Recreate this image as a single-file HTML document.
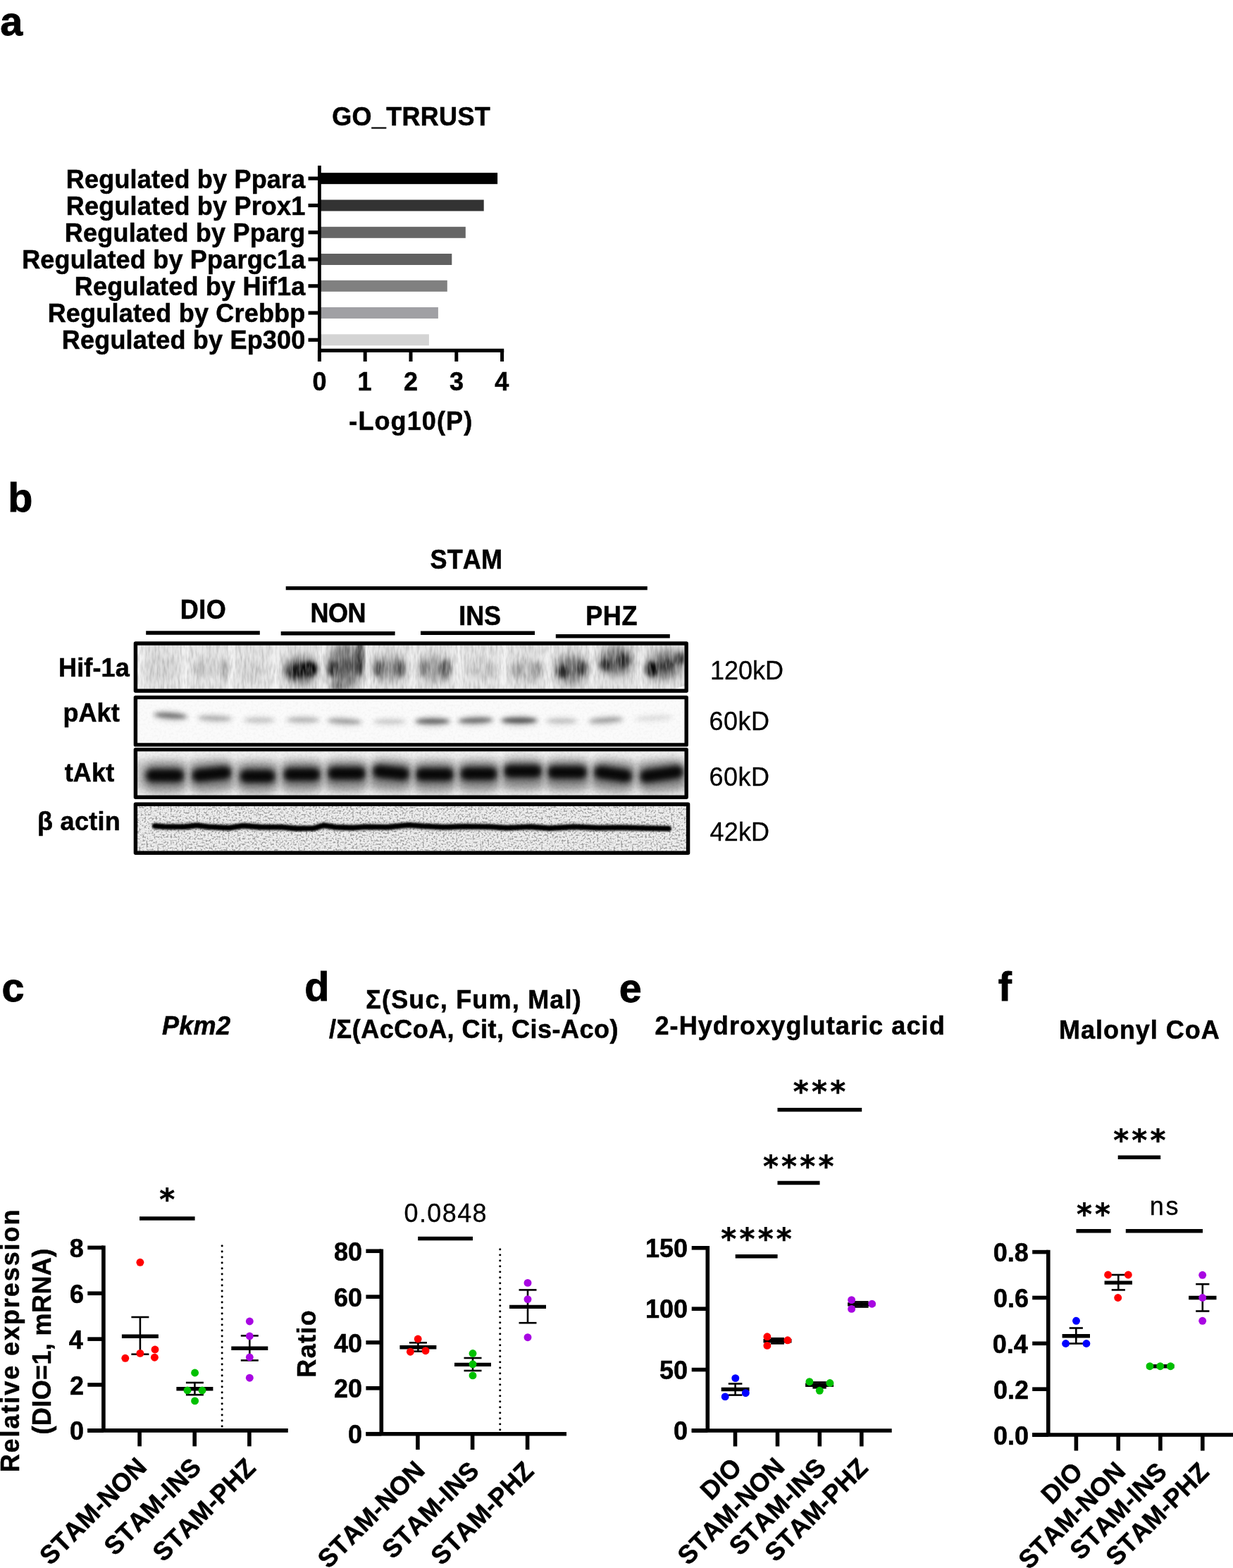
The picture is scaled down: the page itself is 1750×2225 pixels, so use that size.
<!DOCTYPE html>
<html lang="en">
<head>
<meta charset="utf-8">
<title>Figure</title>
<style>
html,body{margin:0;padding:0;background:#fff;}
body{width:1750px;height:2225px;overflow:hidden;}
svg{display:block;font-family:"Liberation Sans",Arial,Helvetica,sans-serif;font-kerning:none;}
text{fill:#000;white-space:pre;}
</style>
</head>
<body>
<svg width="1750" height="2225" viewBox="0 0 1750 2225">
<rect width="1750" height="2225" fill="#fff"/>
<text transform="translate(0.36 50.00) scale(1 1)" font-size="57.5" font-weight="bold" stroke="#000" stroke-width="0.88">a</text>
<text transform="translate(11.16 726.00) scale(1 1)" font-size="57.5" font-weight="bold" stroke="#000" stroke-width="0.88">b</text>
<text transform="translate(2.59 1421.30) scale(1 1)" font-size="57.5" font-weight="bold" stroke="#000" stroke-width="0.88">c</text>
<text transform="translate(432.30 1420.00) scale(1 1)" font-size="57.5" font-weight="bold" stroke="#000" stroke-width="0.88">d</text>
<text transform="translate(878.79 1421.50) scale(1 1)" font-size="57.5" font-weight="bold" stroke="#000" stroke-width="0.88">e</text>
<text transform="translate(1416.74 1420.00) scale(1 1)" font-size="57.5" font-weight="bold" stroke="#000" stroke-width="0.88">f</text>
<text transform="translate(471.16 178.00) scale(1 1.025)" font-size="36" font-weight="bold" letter-spacing="0.330" stroke="#000" stroke-width="0.55">GO_TRRUST</text>
<rect x="453.40" y="245.20" width="252.70" height="16.00" fill="#000000"/>
<line x1="437.50" y1="253.20" x2="453.40" y2="253.20" stroke="#000" stroke-width="5.2"/>
<text transform="translate(93.81 266.90) scale(1 1.0)" font-size="36" font-weight="bold" letter-spacing="0.200" stroke="#000" stroke-width="0.55">Regulated by Ppara</text>
<rect x="453.40" y="283.50" width="233.30" height="16.00" fill="#333333"/>
<line x1="437.50" y1="291.50" x2="453.40" y2="291.50" stroke="#000" stroke-width="5.2"/>
<text transform="translate(93.81 305.20) scale(1 1.0)" font-size="36" font-weight="bold" letter-spacing="0.200" stroke="#000" stroke-width="0.55">Regulated by Prox1</text>
<rect x="453.40" y="321.80" width="207.40" height="16.00" fill="#666666"/>
<line x1="437.50" y1="329.80" x2="453.40" y2="329.80" stroke="#000" stroke-width="5.2"/>
<text transform="translate(91.84 343.10) scale(1 1.0)" font-size="36" font-weight="bold" letter-spacing="0.200" stroke="#000" stroke-width="0.55">Regulated by Pparg</text>
<rect x="453.40" y="360.00" width="187.90" height="16.00" fill="#606060"/>
<line x1="437.50" y1="368.00" x2="453.40" y2="368.00" stroke="#000" stroke-width="5.2"/>
<text transform="translate(31.17 381.00) scale(1 1.0)" font-size="36" font-weight="bold" letter-spacing="0.200" stroke="#000" stroke-width="0.55">Regulated by Ppargc1a</text>
<rect x="453.40" y="397.80" width="181.40" height="16.00" fill="#808080"/>
<line x1="437.50" y1="405.80" x2="453.40" y2="405.80" stroke="#000" stroke-width="5.2"/>
<text transform="translate(105.83 418.70) scale(1 1.0)" font-size="36" font-weight="bold" letter-spacing="0.200" stroke="#000" stroke-width="0.55">Regulated by Hif1a</text>
<rect x="453.40" y="436.00" width="168.50" height="16.00" fill="#a0a0a4"/>
<line x1="437.50" y1="444.00" x2="453.40" y2="444.00" stroke="#000" stroke-width="5.2"/>
<text transform="translate(67.66 456.90) scale(1 1.0)" font-size="36" font-weight="bold" letter-spacing="0.200" stroke="#000" stroke-width="0.55">Regulated by Crebbp</text>
<rect x="453.40" y="474.30" width="155.50" height="16.00" fill="#d4d4d4"/>
<line x1="437.50" y1="482.30" x2="453.40" y2="482.30" stroke="#000" stroke-width="5.2"/>
<text transform="translate(87.79 495.20) scale(1 1.0)" font-size="36" font-weight="bold" letter-spacing="0.200" stroke="#000" stroke-width="0.55">Regulated by Ep300</text>
<line x1="453.40" y1="235.00" x2="453.40" y2="500.00" stroke="#000" stroke-width="4.8"/>
<line x1="451.00" y1="497.40" x2="715.20" y2="497.40" stroke="#000" stroke-width="5.2"/>
<line x1="453.40" y1="497.00" x2="453.40" y2="513.00" stroke="#000" stroke-width="5.0"/>
<text transform="translate(443.41 554.00) scale(1 1.025)" font-size="36" font-weight="bold" stroke="#000" stroke-width="0.55">0</text>
<line x1="518.20" y1="497.00" x2="518.20" y2="513.00" stroke="#000" stroke-width="5.0"/>
<text transform="translate(507.58 554.00) scale(1 1.025)" font-size="36" font-weight="bold" stroke="#000" stroke-width="0.55">1</text>
<line x1="583.00" y1="497.00" x2="583.00" y2="513.00" stroke="#000" stroke-width="5.0"/>
<text transform="translate(573.10 554.00) scale(1 1.025)" font-size="36" font-weight="bold" stroke="#000" stroke-width="0.55">2</text>
<line x1="647.80" y1="497.00" x2="647.80" y2="513.00" stroke="#000" stroke-width="5.0"/>
<text transform="translate(638.08 554.00) scale(1 1.025)" font-size="36" font-weight="bold" stroke="#000" stroke-width="0.55">3</text>
<line x1="712.60" y1="497.00" x2="712.60" y2="513.00" stroke="#000" stroke-width="5.0"/>
<text transform="translate(702.34 554.00) scale(1 1.025)" font-size="36" font-weight="bold" stroke="#000" stroke-width="0.55">4</text>
<text transform="translate(495.34 610.30) scale(1 1.0)" font-size="36" font-weight="bold" letter-spacing="1.100" stroke="#000" stroke-width="0.55">-Log10(P)</text>
<text transform="translate(610.60 806.70) scale(1 1.055)" font-size="36" font-weight="bold" letter-spacing="0.127" stroke="#000" stroke-width="0.55">STAM</text>
<line x1="405.70" y1="834.60" x2="918.80" y2="834.60" stroke="#000" stroke-width="5.4"/>
<text transform="translate(255.76 878.00) scale(1 1.055)" font-size="36" font-weight="bold" letter-spacing="0.450" stroke="#000" stroke-width="0.55">DIO</text>
<line x1="207.20" y1="898.00" x2="368.80" y2="898.00" stroke="#000" stroke-width="5.6"/>
<text transform="translate(440.46 882.50) scale(1 1.055)" font-size="36" font-weight="bold" letter-spacing="-0.420" stroke="#000" stroke-width="0.55">NON</text>
<line x1="398.70" y1="898.80" x2="560.60" y2="898.80" stroke="#000" stroke-width="5.6"/>
<text transform="translate(651.16 887.40) scale(1 1.055)" font-size="36" font-weight="bold" letter-spacing="-0.020" stroke="#000" stroke-width="0.55">INS</text>
<line x1="597.00" y1="898.20" x2="759.00" y2="898.20" stroke="#000" stroke-width="5.6"/>
<text transform="translate(831.16 887.40) scale(1 1.055)" font-size="36" font-weight="bold" letter-spacing="0.635" stroke="#000" stroke-width="0.55">PHZ</text>
<line x1="788.80" y1="902.80" x2="950.80" y2="902.80" stroke="#000" stroke-width="5.6"/>
<text transform="translate(83.06 960.30) scale(1 1.03)" font-size="36" font-weight="bold" letter-spacing="0.120" stroke="#000" stroke-width="0.55">Hif-1a</text>
<text transform="translate(89.46 1024.00) scale(1 1.03)" font-size="36" font-weight="bold" letter-spacing="0.077" stroke="#000" stroke-width="0.55">pAkt</text>
<text transform="translate(91.64 1108.90) scale(1 1.03)" font-size="36" font-weight="bold" letter-spacing="0.217" stroke="#000" stroke-width="0.55">tAkt</text>
<text transform="translate(53.06 1178.00) scale(1 1.03)" font-size="36" font-weight="bold" letter-spacing="0.289" stroke="#000" stroke-width="0.55">β actin</text>
<text transform="translate(1007.90 964.40) scale(1 1.02)" font-size="36" letter-spacing="-0.016" stroke="#000" stroke-width="0.30">120kD</text>
<text transform="translate(1006.50 1035.90) scale(1 1.02)" font-size="36" letter-spacing="0.519" stroke="#000" stroke-width="0.30">60kD</text>
<text transform="translate(1006.50 1114.60) scale(1 1.02)" font-size="36" letter-spacing="0.519" stroke="#000" stroke-width="0.30">60kD</text>
<text transform="translate(1007.58 1192.60) scale(1 1.02)" font-size="36" letter-spacing="0.159" stroke="#000" stroke-width="0.30">42kD</text>
<defs>
<filter id="n1" x="0" y="0" width="100%" height="100%"><feTurbulence type="fractalNoise" baseFrequency="0.32 0.07" numOctaves="2" seed="3"/><feColorMatrix type="matrix" values="0 0 0 0 0  0 0 0 0 0  0 0 0 0 0  2.4 0 0 0 -0.9"/></filter>
<filter id="n1w" x="0" y="0" width="100%" height="100%"><feTurbulence type="fractalNoise" baseFrequency="0.3 0.05" numOctaves="2" seed="17"/><feColorMatrix type="matrix" values="0 0 0 0 1  0 0 0 0 1  0 0 0 0 1  2.6 0 0 0 -1.05"/></filter>
<filter id="n2" x="0" y="0" width="100%" height="100%"><feTurbulence type="fractalNoise" baseFrequency="0.3" numOctaves="2" seed="5"/><feColorMatrix type="matrix" values="0 0 0 0 0  0 0 0 0 0  0 0 0 0 0  1.6 0 0 0 -0.62"/></filter>
<filter id="n4" x="0" y="0" width="100%" height="100%"><feTurbulence type="fractalNoise" baseFrequency="0.38" numOctaves="2" seed="11"/><feColorMatrix type="matrix" values="0 0 0 0 0  0 0 0 0 0  0 0 0 0 0  3.6 0 0 0 -1.68"/><feGaussianBlur stdDeviation="0.6"/></filter>
<filter id="b1" x="-10%" y="-100%" width="120%" height="300%"><feGaussianBlur stdDeviation="0.8"/></filter>
<filter id="b2" x="-30%" y="-100%" width="160%" height="300%"><feGaussianBlur stdDeviation="2.2"/></filter>
<filter id="b3" x="-30%" y="-100%" width="160%" height="300%"><feGaussianBlur stdDeviation="3.2"/></filter>
<filter id="b4" x="-30%" y="-100%" width="160%" height="300%"><feGaussianBlur stdDeviation="4.5"/></filter>
<filter id="b6" x="-30%" y="-100%" width="160%" height="300%"><feGaussianBlur stdDeviation="6.5"/></filter>

<clipPath id="cb0"><rect x="192.40" y="913.00" width="781.80" height="67.30"/></clipPath>
<clipPath id="cb1"><rect x="192.40" y="989.60" width="781.80" height="67.30"/></clipPath>
<clipPath id="cb2"><rect x="192.40" y="1063.60" width="781.80" height="67.70"/></clipPath>
<clipPath id="cb3"><rect x="192.40" y="1141.20" width="784.20" height="69.10"/></clipPath>
</defs>
<g clip-path="url(#cb0)">
<rect x="189.70" y="910.30" width="787.20" height="72.70" fill="#e4e4e4"/>
<rect x="194" y="910.3" width="10" height="72.7" fill="#fff" opacity="0.6" filter="url(#b3)"/>
<rect x="258" y="910.3" width="10" height="72.7" fill="#fff" opacity="0.6" filter="url(#b3)"/>
<rect x="323" y="910.3" width="10" height="72.7" fill="#fff" opacity="0.6" filter="url(#b3)"/>
<rect x="386.5" y="910.3" width="10" height="72.7" fill="#fff" opacity="0.6" filter="url(#b3)"/>
<rect x="452" y="910.3" width="10" height="72.7" fill="#fff" opacity="0.6" filter="url(#b3)"/>
<rect x="516" y="910.3" width="10" height="72.7" fill="#fff" opacity="0.6" filter="url(#b3)"/>
<rect x="580" y="910.3" width="10" height="72.7" fill="#fff" opacity="0.6" filter="url(#b3)"/>
<rect x="645.5" y="910.3" width="10" height="72.7" fill="#fff" opacity="0.6" filter="url(#b3)"/>
<rect x="710" y="910.3" width="10" height="72.7" fill="#fff" opacity="0.6" filter="url(#b3)"/>
<rect x="773.7" y="910.3" width="10" height="72.7" fill="#fff" opacity="0.6" filter="url(#b3)"/>
<rect x="836" y="910.3" width="10" height="72.7" fill="#fff" opacity="0.6" filter="url(#b3)"/>
<rect x="903" y="910.3" width="10" height="72.7" fill="#fff" opacity="0.6" filter="url(#b3)"/>
<ellipse cx="228" cy="948" rx="24" ry="17.5" fill="#000" opacity="0.06" filter="url(#b4)"/>
<ellipse cx="283" cy="949" rx="7" ry="12.5" fill="#000" opacity="0.13" filter="url(#b3)"/>
<ellipse cx="319.5" cy="949" rx="5" ry="13.8" fill="#000" opacity="0.25" filter="url(#b3)"/>
<ellipse cx="300" cy="949" rx="20" ry="12.5" fill="#000" opacity="0.06" filter="url(#b4)"/>
<ellipse cx="357" cy="951" rx="18" ry="12.5" fill="#000" opacity="0.07" filter="url(#b4)"/>
<ellipse cx="427" cy="951" rx="23" ry="19.5" fill="#000" opacity="0.56" filter="url(#b6)"/>
<ellipse cx="418" cy="953" rx="11" ry="10.0" fill="#000" opacity="0.73" filter="url(#b4)"/>
<ellipse cx="440" cy="949" rx="10" ry="10.0" fill="#000" opacity="1.0" filter="url(#b3)"/>
<ellipse cx="438" cy="949" rx="7" ry="6.2" fill="#000" opacity="1.0" filter="url(#b2)"/>
<ellipse cx="430" cy="951" rx="12" ry="8.8" fill="#000" opacity="0.63" filter="url(#b3)"/>
<ellipse cx="490" cy="945" rx="24" ry="33.8" fill="#000" opacity="0.45" filter="url(#b6)"/>
<ellipse cx="472" cy="949" rx="7" ry="11.2" fill="#000" opacity="0.73" filter="url(#b3)"/>
<ellipse cx="511" cy="934" rx="4.5" ry="26.2" fill="#000" opacity="0.84" filter="url(#b3)"/>
<ellipse cx="492" cy="946" rx="14" ry="11.2" fill="#000" opacity="0.37" filter="url(#b4)"/>
<ellipse cx="478" cy="974" rx="10" ry="6.2" fill="#000" opacity="0.32" filter="url(#b3)"/>
<ellipse cx="553" cy="948" rx="24" ry="18.2" fill="#000" opacity="0.33" filter="url(#b6)"/>
<ellipse cx="538" cy="949" rx="7" ry="11.2" fill="#000" opacity="0.5" filter="url(#b3)"/>
<ellipse cx="568" cy="949" rx="7" ry="11.2" fill="#000" opacity="0.48" filter="url(#b3)"/>
<ellipse cx="617" cy="949" rx="23" ry="18.2" fill="#000" opacity="0.3" filter="url(#b6)"/>
<ellipse cx="601" cy="949" rx="7" ry="10.0" fill="#000" opacity="0.32" filter="url(#b3)"/>
<ellipse cx="632.5" cy="949" rx="6.5" ry="12.5" fill="#000" opacity="0.53" filter="url(#b3)"/>
<ellipse cx="682" cy="950" rx="20" ry="15.0" fill="#000" opacity="0.08" filter="url(#b4)"/>
<ellipse cx="696" cy="951" rx="6" ry="10.0" fill="#000" opacity="0.11" filter="url(#b3)"/>
<ellipse cx="747" cy="951" rx="22" ry="16.9" fill="#000" opacity="0.16" filter="url(#b6)"/>
<ellipse cx="733" cy="952" rx="7" ry="10.0" fill="#000" opacity="0.15" filter="url(#b3)"/>
<ellipse cx="762" cy="950" rx="7" ry="11.2" fill="#000" opacity="0.21" filter="url(#b3)"/>
<ellipse cx="811" cy="950" rx="23" ry="20.8" fill="#000" opacity="0.47" filter="url(#b6)"/>
<ellipse cx="798.5" cy="953" rx="8" ry="10.0" fill="#000" opacity="0.65" filter="url(#b3)"/>
<ellipse cx="826" cy="948" rx="8" ry="10.0" fill="#000" opacity="0.55" filter="url(#b3)"/>
<ellipse cx="875" cy="938" rx="24" ry="20.8" fill="#000" opacity="0.5" filter="url(#b6)"/>
<ellipse cx="859.5" cy="943" rx="8" ry="8.8" fill="#000" opacity="0.63" filter="url(#b3)"/>
<ellipse cx="884" cy="937" rx="9" ry="10.0" fill="#000" opacity="0.65" filter="url(#b3)"/>
<ellipse cx="944" cy="944" rx="26" ry="20.8" fill="#000" opacity="0.5" filter="url(#b6)" transform="rotate(-18 944 944)"/>
<ellipse cx="925" cy="949.5" rx="8.5" ry="10.6" fill="#000" opacity="0.97" filter="url(#b3)"/>
<ellipse cx="946" cy="943" rx="12" ry="7.5" fill="#000" opacity="0.47" filter="url(#b3)" transform="rotate(-20 946 943)"/>
<ellipse cx="966" cy="934" rx="6" ry="8.8" fill="#000" opacity="0.73" filter="url(#b3)"/>
<rect x="189.70" y="910.30" width="787.20" height="72.70" fill="#000" filter="url(#n1)" opacity="0.13"/>
<rect x="189.70" y="910.30" width="787.20" height="72.70" fill="#fff" filter="url(#n1w)" opacity="0.3"/>
<path d="M947.5 980.3 L974.1999999999999 972.6 L974.1999999999999 980.3 Z" fill="#fff"/>
</g>
<rect x="192.40" y="913.00" width="781.80" height="67.30" fill="none" stroke="#000" stroke-width="5.4" stroke-linejoin="round"/>
<g clip-path="url(#cb1)">
<rect x="189.70" y="986.90" width="787.20" height="72.70" fill="#fbfbfb"/>
<rect x="189.70" y="986.90" width="787.20" height="72.70" fill="#000" filter="url(#n2)" opacity="0.04"/>
<ellipse cx="242" cy="1015.5" rx="24" ry="4.6" fill="#000" opacity="0.396" filter="url(#b3)" transform="rotate(4 242 1015.5)"/>
<ellipse cx="242" cy="1015.5" rx="20" ry="2.6" fill="#000" opacity="0.165" filter="url(#b2)" transform="rotate(4 242 1015.5)"/>
<ellipse cx="242" cy="1016.5" rx="26" ry="9" fill="#000" opacity="0.066" filter="url(#b4)" transform="rotate(4 242 1016.5)"/>
<ellipse cx="305" cy="1019.3" rx="25" ry="4.6" fill="#000" opacity="0.19440000000000002" filter="url(#b3)" transform="rotate(2 305 1019.3)"/>
<ellipse cx="305" cy="1019.3" rx="21" ry="2.6" fill="#000" opacity="0.081" filter="url(#b2)" transform="rotate(2 305 1019.3)"/>
<ellipse cx="305" cy="1020.3" rx="27" ry="9" fill="#000" opacity="0.0324" filter="url(#b4)" transform="rotate(2 305 1020.3)"/>
<ellipse cx="368" cy="1021.8" rx="23" ry="4.6" fill="#000" opacity="0.1296" filter="url(#b3)"/>
<ellipse cx="368" cy="1021.8" rx="19" ry="2.6" fill="#000" opacity="0.054" filter="url(#b2)"/>
<ellipse cx="368" cy="1022.8" rx="25" ry="9" fill="#000" opacity="0.021599999999999998" filter="url(#b4)"/>
<ellipse cx="430" cy="1021.5" rx="24" ry="4.6" fill="#000" opacity="0.18" filter="url(#b3)"/>
<ellipse cx="430" cy="1021.5" rx="20" ry="2.6" fill="#000" opacity="0.075" filter="url(#b2)"/>
<ellipse cx="430" cy="1022.5" rx="26" ry="9" fill="#000" opacity="0.03" filter="url(#b4)"/>
<ellipse cx="489" cy="1023.5" rx="25" ry="4.6" fill="#000" opacity="0.24480000000000002" filter="url(#b3)" transform="rotate(3 489 1023.5)"/>
<ellipse cx="489" cy="1023.5" rx="21" ry="2.6" fill="#000" opacity="0.10200000000000001" filter="url(#b2)" transform="rotate(3 489 1023.5)"/>
<ellipse cx="489" cy="1024.5" rx="27" ry="9" fill="#000" opacity="0.0408" filter="url(#b4)" transform="rotate(3 489 1024.5)"/>
<ellipse cx="553" cy="1024" rx="24" ry="4.6" fill="#000" opacity="0.1152" filter="url(#b3)"/>
<ellipse cx="553" cy="1024" rx="20" ry="2.6" fill="#000" opacity="0.048" filter="url(#b2)"/>
<ellipse cx="553" cy="1025" rx="26" ry="9" fill="#000" opacity="0.0192" filter="url(#b4)"/>
<ellipse cx="614" cy="1023.5" rx="25" ry="4.6" fill="#000" opacity="0.44639999999999996" filter="url(#b3)"/>
<ellipse cx="614" cy="1023.5" rx="21" ry="2.6" fill="#000" opacity="0.186" filter="url(#b2)"/>
<ellipse cx="614" cy="1024.5" rx="27" ry="9" fill="#000" opacity="0.0744" filter="url(#b4)"/>
<ellipse cx="675" cy="1022.3" rx="25" ry="4.6" fill="#000" opacity="0.41759999999999997" filter="url(#b3)" transform="rotate(-2 675 1022.3)"/>
<ellipse cx="675" cy="1022.3" rx="21" ry="2.6" fill="#000" opacity="0.174" filter="url(#b2)" transform="rotate(-2 675 1022.3)"/>
<ellipse cx="675" cy="1023.3" rx="27" ry="9" fill="#000" opacity="0.0696" filter="url(#b4)" transform="rotate(-2 675 1023.3)"/>
<ellipse cx="737" cy="1022.3" rx="26" ry="4.6" fill="#000" opacity="0.5184" filter="url(#b3)"/>
<ellipse cx="737" cy="1022.3" rx="22" ry="2.6" fill="#000" opacity="0.216" filter="url(#b2)"/>
<ellipse cx="737" cy="1023.3" rx="28" ry="9" fill="#000" opacity="0.08639999999999999" filter="url(#b4)"/>
<ellipse cx="797" cy="1023" rx="23" ry="4.6" fill="#000" opacity="0.144" filter="url(#b3)"/>
<ellipse cx="797" cy="1023" rx="19" ry="2.6" fill="#000" opacity="0.06" filter="url(#b2)"/>
<ellipse cx="797" cy="1024" rx="25" ry="9" fill="#000" opacity="0.024" filter="url(#b4)"/>
<ellipse cx="860" cy="1022" rx="25" ry="4.6" fill="#000" opacity="0.24480000000000002" filter="url(#b3)" transform="rotate(-4 860 1022)"/>
<ellipse cx="860" cy="1022" rx="21" ry="2.6" fill="#000" opacity="0.10200000000000001" filter="url(#b2)" transform="rotate(-4 860 1022)"/>
<ellipse cx="860" cy="1023" rx="27" ry="9" fill="#000" opacity="0.0408" filter="url(#b4)" transform="rotate(-4 860 1023)"/>
<ellipse cx="928" cy="1019" rx="28" ry="4.6" fill="#000" opacity="0.0648" filter="url(#b3)" transform="rotate(-3 928 1019)"/>
<ellipse cx="928" cy="1019" rx="24" ry="2.6" fill="#000" opacity="0.027" filter="url(#b2)" transform="rotate(-3 928 1019)"/>
<ellipse cx="928" cy="1020" rx="30" ry="9" fill="#000" opacity="0.010799999999999999" filter="url(#b4)" transform="rotate(-3 928 1020)"/>
</g>
<rect x="192.40" y="989.60" width="781.80" height="67.30" fill="none" stroke="#000" stroke-width="5.4" stroke-linejoin="round"/>
<g clip-path="url(#cb2)">
<rect x="189.70" y="1060.90" width="787.20" height="73.10" fill="#f2f2f2"/>
<rect x="189.7" y="1080" width="787.2" height="40" fill="#000" opacity="0.2" filter="url(#b6)"/>
<rect x="205.0" y="1081.5" width="58" height="44" rx="14" fill="#000" opacity="0.3" filter="url(#b6)"/>
<rect x="270.5" y="1079.5" width="60" height="44" rx="14" fill="#000" opacity="0.3" filter="url(#b6)" transform="rotate(-6 300.5 1101.5)"/>
<rect x="338.5" y="1082.5" width="54" height="44" rx="14" fill="#000" opacity="0.3" filter="url(#b6)"/>
<rect x="400.5" y="1080.0" width="56" height="44" rx="14" fill="#000" opacity="0.3" filter="url(#b6)"/>
<rect x="463.0" y="1078.5" width="58" height="44" rx="14" fill="#000" opacity="0.3" filter="url(#b6)"/>
<rect x="527.0" y="1077.5" width="56" height="44" rx="14" fill="#000" opacity="0.3" filter="url(#b6)" transform="rotate(6 555 1099.5)"/>
<rect x="588.0" y="1080.0" width="58" height="44" rx="14" fill="#000" opacity="0.3" filter="url(#b6)"/>
<rect x="651.5" y="1079.0" width="56" height="44" rx="14" fill="#000" opacity="0.3" filter="url(#b6)"/>
<rect x="713.0" y="1075.5" width="58" height="44" rx="14" fill="#000" opacity="0.3" filter="url(#b6)"/>
<rect x="775.0" y="1077.0" width="60" height="44" rx="14" fill="#000" opacity="0.3" filter="url(#b6)"/>
<rect x="841.0" y="1079.5" width="58" height="44" rx="14" fill="#000" opacity="0.3" filter="url(#b6)" transform="rotate(8 870 1101.5)"/>
<rect x="906.0" y="1079.5" width="66" height="44" rx="14" fill="#000" opacity="0.3" filter="url(#b6)" transform="rotate(-8 939 1101.5)"/>
<rect x="206.5" y="1091.0" width="55" height="19" rx="9" fill="#000" opacity="0.85" filter="url(#b4)"/>
<rect x="211.0" y="1095.5" width="46" height="10" rx="5" fill="#000" opacity="0.6" filter="url(#b3)"/>
<rect x="272.0" y="1089.0" width="57" height="19" rx="9" fill="#000" opacity="0.85" filter="url(#b4)" transform="rotate(-6 300.5 1098.5)"/>
<rect x="276.5" y="1093.5" width="48" height="10" rx="5" fill="#000" opacity="0.6" filter="url(#b3)" transform="rotate(-6 300.5 1098.5)"/>
<rect x="340.0" y="1092.0" width="51" height="19" rx="9" fill="#000" opacity="0.85" filter="url(#b4)"/>
<rect x="344.5" y="1096.5" width="42" height="10" rx="5" fill="#000" opacity="0.6" filter="url(#b3)"/>
<rect x="402.0" y="1089.5" width="53" height="19" rx="9" fill="#000" opacity="0.85" filter="url(#b4)"/>
<rect x="406.5" y="1094.0" width="44" height="10" rx="5" fill="#000" opacity="0.6" filter="url(#b3)"/>
<rect x="464.5" y="1088.0" width="55" height="19" rx="9" fill="#000" opacity="0.85" filter="url(#b4)"/>
<rect x="469.0" y="1092.5" width="46" height="10" rx="5" fill="#000" opacity="0.6" filter="url(#b3)"/>
<rect x="528.5" y="1087.0" width="53" height="19" rx="9" fill="#000" opacity="0.85" filter="url(#b4)" transform="rotate(6 555 1096.5)"/>
<rect x="533.0" y="1091.5" width="44" height="10" rx="5" fill="#000" opacity="0.6" filter="url(#b3)" transform="rotate(6 555 1096.5)"/>
<rect x="589.5" y="1089.5" width="55" height="19" rx="9" fill="#000" opacity="0.85" filter="url(#b4)"/>
<rect x="594.0" y="1094.0" width="46" height="10" rx="5" fill="#000" opacity="0.6" filter="url(#b3)"/>
<rect x="653.0" y="1088.5" width="53" height="19" rx="9" fill="#000" opacity="0.85" filter="url(#b4)"/>
<rect x="657.5" y="1093.0" width="44" height="10" rx="5" fill="#000" opacity="0.6" filter="url(#b3)"/>
<rect x="714.5" y="1085.0" width="55" height="19" rx="9" fill="#000" opacity="0.85" filter="url(#b4)"/>
<rect x="719.0" y="1089.5" width="46" height="10" rx="5" fill="#000" opacity="0.6" filter="url(#b3)"/>
<rect x="776.5" y="1086.5" width="57" height="19" rx="9" fill="#000" opacity="0.85" filter="url(#b4)"/>
<rect x="781.0" y="1091.0" width="48" height="10" rx="5" fill="#000" opacity="0.6" filter="url(#b3)"/>
<rect x="842.5" y="1089.0" width="55" height="19" rx="9" fill="#000" opacity="0.85" filter="url(#b4)" transform="rotate(8 870 1098.5)"/>
<rect x="847.0" y="1093.5" width="46" height="10" rx="5" fill="#000" opacity="0.6" filter="url(#b3)" transform="rotate(8 870 1098.5)"/>
<rect x="907.5" y="1089.0" width="63" height="19" rx="9" fill="#000" opacity="0.85" filter="url(#b4)" transform="rotate(-8 939 1098.5)"/>
<rect x="912.0" y="1093.5" width="54" height="10" rx="5" fill="#000" opacity="0.6" filter="url(#b3)" transform="rotate(-8 939 1098.5)"/>
<rect x="263.5" y="1060.9" width="7" height="73.1" fill="#fff" opacity="0.22" filter="url(#b3)"/>
<rect x="329.5" y="1060.9" width="7" height="73.1" fill="#fff" opacity="0.22" filter="url(#b3)"/>
<rect x="393.5" y="1060.9" width="7" height="73.1" fill="#fff" opacity="0.22" filter="url(#b3)"/>
<rect x="456.5" y="1060.9" width="7" height="73.1" fill="#fff" opacity="0.22" filter="url(#b3)"/>
<rect x="520.0" y="1060.9" width="7" height="73.1" fill="#fff" opacity="0.22" filter="url(#b3)"/>
<rect x="582.5" y="1060.9" width="7" height="73.1" fill="#fff" opacity="0.22" filter="url(#b3)"/>
<rect x="644.5" y="1060.9" width="7" height="73.1" fill="#fff" opacity="0.22" filter="url(#b3)"/>
<rect x="707.5" y="1060.9" width="7" height="73.1" fill="#fff" opacity="0.22" filter="url(#b3)"/>
<rect x="770.0" y="1060.9" width="7" height="73.1" fill="#fff" opacity="0.22" filter="url(#b3)"/>
<rect x="834.5" y="1060.9" width="7" height="73.1" fill="#fff" opacity="0.22" filter="url(#b3)"/>
<rect x="899.5" y="1060.9" width="7" height="73.1" fill="#fff" opacity="0.22" filter="url(#b3)"/>
<rect x="189.70" y="1060.90" width="787.20" height="73.10" fill="#000" filter="url(#n2)" opacity="0.08"/>
</g>
<rect x="192.40" y="1063.60" width="781.80" height="67.70" fill="none" stroke="#000" stroke-width="5.4" stroke-linejoin="round"/>
<g clip-path="url(#cb3)">
<rect x="189.70" y="1138.50" width="789.60" height="74.50" fill="#eeeeee"/>
<rect x="189.70" y="1138.50" width="789.60" height="74.50" fill="#000" filter="url(#n4)" opacity="0.34"/>
<path d="M220 1172 L232 1173 L262 1173.3 L279 1171.3 L296 1173.3 L325 1174.8 L345 1171.8 L370 1173.6 L400 1173.8 L420 1175.6 L445 1175.3 L460 1171.2 L476 1173.8 L500 1174.6 L520 1173.3 L550 1173.8 L580 1170.8 L600 1172.3 L630 1173.8 L660 1172.8 L695 1173.3 L720 1174.8 L752 1173.3 L780 1175.3 L815 1173.3 L850 1174.8 L880 1174.3 L920 1175.3 L949 1175.8" fill="none" stroke="#000" stroke-width="10" stroke-linecap="round" stroke-linejoin="round" opacity="0.22" filter="url(#b2)"/>
<path d="M220 1172 L232 1173 L262 1173.3 L279 1171.3 L296 1173.3 L325 1174.8 L345 1171.8 L370 1173.6 L400 1173.8 L420 1175.6 L445 1175.3 L460 1171.2 L476 1173.8 L500 1174.6 L520 1173.3 L550 1173.8 L580 1170.8 L600 1172.3 L630 1173.8 L660 1172.8 L695 1173.3 L720 1174.8 L752 1173.3 L780 1175.3 L815 1173.3 L850 1174.8 L880 1174.3 L920 1175.3 L949 1175.8" fill="none" stroke="#050505" stroke-width="7.6" stroke-linecap="round" stroke-linejoin="round" filter="url(#b1)"/>
</g>
<rect x="192.40" y="1141.20" width="784.20" height="69.10" fill="none" stroke="#000" stroke-width="5.4" stroke-linejoin="round"/>
<text transform="translate(229.96 1468.00) scale(1 1.0)" font-size="36" font-weight="bold" font-style="italic" letter-spacing="0.299" stroke="#000" stroke-width="0.55">Pkm2</text>
<line x1="146.90" y1="1767.61" x2="146.90" y2="2029.85" stroke="#000" stroke-width="5.6"/>
<line x1="124.30" y1="2029.85" x2="408.80" y2="2029.85" stroke="#000" stroke-width="5.6"/>
<line x1="124.30" y1="2029.85" x2="146.90" y2="2029.85" stroke="#000" stroke-width="5.6"/>
<text transform="translate(99.08 2043.45) scale(1 1.05)" font-size="36" font-weight="bold" stroke="#000" stroke-width="0.55">0</text>
<line x1="124.30" y1="1964.99" x2="146.90" y2="1964.99" stroke="#000" stroke-width="5.6"/>
<text transform="translate(99.08 1978.59) scale(1 1.05)" font-size="36" font-weight="bold" stroke="#000" stroke-width="0.55">2</text>
<line x1="124.30" y1="1900.13" x2="146.90" y2="1900.13" stroke="#000" stroke-width="5.6"/>
<text transform="translate(97.82 1913.73) scale(1 1.05)" font-size="36" font-weight="bold" stroke="#000" stroke-width="0.55">4</text>
<line x1="124.30" y1="1835.27" x2="146.90" y2="1835.27" stroke="#000" stroke-width="5.6"/>
<text transform="translate(99.08 1848.87) scale(1 1.05)" font-size="36" font-weight="bold" stroke="#000" stroke-width="0.55">6</text>
<line x1="124.30" y1="1770.41" x2="146.90" y2="1770.41" stroke="#000" stroke-width="5.6"/>
<text transform="translate(98.72 1784.01) scale(1 1.05)" font-size="36" font-weight="bold" stroke="#000" stroke-width="0.55">8</text>
<line x1="198.10" y1="2029.85" x2="198.10" y2="2052.35" stroke="#000" stroke-width="5.6"/>
<line x1="276.20" y1="2029.85" x2="276.20" y2="2052.35" stroke="#000" stroke-width="5.6"/>
<line x1="353.90" y1="2029.85" x2="353.90" y2="2052.35" stroke="#000" stroke-width="5.6"/>
<line x1="315.15" y1="1767.85" x2="315.15" y2="2023.9499999999998" stroke="#000" stroke-width="3.1" stroke-linecap="round" stroke-dasharray="0.01 7.99"/>
<text transform="translate(27.05 2087.00) rotate(-90) scale(1 1.0)" x="-2.34" font-size="36" font-weight="bold" letter-spacing="1.920" stroke="#000" stroke-width="0.55">Relative expression</text>
<text transform="translate(72.00 2033.90) rotate(-90) scale(1 1.0)" x="-1.62" font-size="36" font-weight="bold" letter-spacing="0.385" stroke="#000" stroke-width="0.55">(DIO=1, mRNA)</text>
<text transform="translate(208.50 2085.45) rotate(-45) scale(1 1.025)" x="-193.66" font-size="36" font-weight="bold" letter-spacing="0.300" stroke="#000" stroke-width="0.55">STAM-NON</text>
<text transform="translate(286.60 2085.45) rotate(-45) scale(1 1.025)" x="-174.76" font-size="36" font-weight="bold" letter-spacing="0.300" stroke="#000" stroke-width="0.55">STAM-INS</text>
<text transform="translate(364.30 2085.45) rotate(-45) scale(1 1.025)" x="-187.15" font-size="36" font-weight="bold" letter-spacing="0.300" stroke="#000" stroke-width="0.55">STAM-PHZ</text>
<line x1="186.40" y1="1869.00" x2="211.40" y2="1869.00" stroke="#000" stroke-width="2.6"/>
<line x1="186.40" y1="1921.70" x2="211.40" y2="1921.70" stroke="#000" stroke-width="2.6"/>
<line x1="198.90" y1="1869.00" x2="198.90" y2="1921.70" stroke="#000" stroke-width="2.6"/>
<line x1="172.90" y1="1896.20" x2="224.90" y2="1896.20" stroke="#000" stroke-width="5.4"/>
<circle cx="198.90" cy="1791.30" r="5.45" fill="#ff0000"/>
<circle cx="177.80" cy="1927.30" r="5.45" fill="#ff0000"/>
<circle cx="198.90" cy="1920.40" r="5.45" fill="#ff0000"/>
<circle cx="220.00" cy="1915.00" r="5.45" fill="#ff0000"/>
<circle cx="219.40" cy="1926.20" r="5.45" fill="#ff0000"/>
<line x1="263.90" y1="1962.00" x2="288.90" y2="1962.00" stroke="#000" stroke-width="2.6"/>
<line x1="263.90" y1="1979.20" x2="288.90" y2="1979.20" stroke="#000" stroke-width="2.6"/>
<line x1="276.40" y1="1962.00" x2="276.40" y2="1979.20" stroke="#000" stroke-width="2.6"/>
<line x1="250.40" y1="1970.70" x2="302.40" y2="1970.70" stroke="#000" stroke-width="5.4"/>
<circle cx="276.60" cy="1948.00" r="5.45" fill="#00c000"/>
<circle cx="266.00" cy="1973.00" r="5.45" fill="#00c000"/>
<circle cx="287.00" cy="1973.00" r="5.45" fill="#00c000"/>
<circle cx="276.60" cy="1987.90" r="5.45" fill="#00c000"/>
<line x1="341.80" y1="1895.40" x2="366.80" y2="1895.40" stroke="#000" stroke-width="2.6"/>
<line x1="341.80" y1="1930.40" x2="366.80" y2="1930.40" stroke="#000" stroke-width="2.6"/>
<line x1="354.30" y1="1895.40" x2="354.30" y2="1930.40" stroke="#000" stroke-width="2.6"/>
<line x1="328.30" y1="1913.30" x2="380.30" y2="1913.30" stroke="#000" stroke-width="5.4"/>
<circle cx="354.30" cy="1875.00" r="5.45" fill="#a806e2"/>
<circle cx="354.30" cy="1896.00" r="5.45" fill="#a806e2"/>
<circle cx="354.30" cy="1926.00" r="5.45" fill="#a806e2"/>
<circle cx="354.30" cy="1955.20" r="5.45" fill="#a806e2"/>
<line x1="198.00" y1="1729.00" x2="276.60" y2="1729.00" stroke="#000" stroke-width="5.6"/>
<text transform="translate(226.28 1717.03) scale(1 1)" font-size="42" font-weight="bold" font-family="DejaVu Sans, sans-serif" letter-spacing="4.200" stroke="#000" stroke-width="0.4">*</text>
<text transform="translate(519.16 1430.50) scale(1 1.0)" font-size="36" font-weight="bold" letter-spacing="1.197" stroke="#000" stroke-width="0.55">Σ(Suc, Fum, Mal)</text>
<text transform="translate(467.12 1473.00) scale(1 1.0)" font-size="36" font-weight="bold" letter-spacing="0.487" stroke="#000" stroke-width="0.55">/Σ(AcCoA, Cit, Cis-Aco)</text>
<line x1="541.30" y1="1772.46" x2="541.30" y2="2034.70" stroke="#000" stroke-width="5.6"/>
<line x1="519.40" y1="2034.70" x2="804.00" y2="2034.70" stroke="#000" stroke-width="5.6"/>
<line x1="519.40" y1="2034.70" x2="541.30" y2="2034.70" stroke="#000" stroke-width="5.6"/>
<text transform="translate(493.98 2048.30) scale(1 1.05)" font-size="36" font-weight="bold" stroke="#000" stroke-width="0.55">0</text>
<line x1="519.40" y1="1969.84" x2="541.30" y2="1969.84" stroke="#000" stroke-width="5.6"/>
<text transform="translate(473.96 1983.44) scale(1 1.05)" font-size="36" font-weight="bold" stroke="#000" stroke-width="0.55">20</text>
<line x1="519.40" y1="1904.98" x2="541.30" y2="1904.98" stroke="#000" stroke-width="5.6"/>
<text transform="translate(473.96 1918.58) scale(1 1.05)" font-size="36" font-weight="bold" stroke="#000" stroke-width="0.55">40</text>
<line x1="519.40" y1="1840.12" x2="541.30" y2="1840.12" stroke="#000" stroke-width="5.6"/>
<text transform="translate(473.96 1853.72) scale(1 1.05)" font-size="36" font-weight="bold" stroke="#000" stroke-width="0.55">60</text>
<line x1="519.40" y1="1775.26" x2="541.30" y2="1775.26" stroke="#000" stroke-width="5.6"/>
<text transform="translate(473.96 1788.86) scale(1 1.05)" font-size="36" font-weight="bold" stroke="#000" stroke-width="0.55">80</text>
<line x1="592.90" y1="2034.70" x2="592.90" y2="2057.10" stroke="#000" stroke-width="5.6"/>
<line x1="670.60" y1="2034.70" x2="670.60" y2="2057.10" stroke="#000" stroke-width="5.6"/>
<line x1="748.60" y1="2034.70" x2="748.60" y2="2057.10" stroke="#000" stroke-width="5.6"/>
<line x1="709.75" y1="1772.7" x2="709.75" y2="2028.8" stroke="#000" stroke-width="3.1" stroke-linecap="round" stroke-dasharray="0.01 7.99"/>
<text transform="translate(448.30 1952.40) rotate(-90) scale(1 1.0)" x="-2.34" font-size="36" font-weight="bold" letter-spacing="1.358" stroke="#000" stroke-width="0.55">Ratio</text>
<text transform="translate(603.30 2090.30) rotate(-45) scale(1 1.025)" x="-193.66" font-size="36" font-weight="bold" letter-spacing="0.300" stroke="#000" stroke-width="0.55">STAM-NON</text>
<text transform="translate(681.00 2090.30) rotate(-45) scale(1 1.025)" x="-174.76" font-size="36" font-weight="bold" letter-spacing="0.300" stroke="#000" stroke-width="0.55">STAM-INS</text>
<text transform="translate(759.00 2090.30) rotate(-45) scale(1 1.025)" x="-187.15" font-size="36" font-weight="bold" letter-spacing="0.300" stroke="#000" stroke-width="0.55">STAM-PHZ</text>
<line x1="580.90" y1="1905.30" x2="605.90" y2="1905.30" stroke="#000" stroke-width="2.6"/>
<line x1="580.90" y1="1917.60" x2="605.90" y2="1917.60" stroke="#000" stroke-width="2.6"/>
<line x1="593.40" y1="1905.30" x2="593.40" y2="1917.60" stroke="#000" stroke-width="2.6"/>
<line x1="567.40" y1="1911.80" x2="619.40" y2="1911.80" stroke="#000" stroke-width="5.4"/>
<circle cx="593.20" cy="1900.00" r="5.45" fill="#ff0000"/>
<circle cx="582.40" cy="1918.20" r="5.45" fill="#ff0000"/>
<circle cx="604.00" cy="1916.70" r="5.45" fill="#ff0000"/>
<line x1="658.50" y1="1927.00" x2="683.50" y2="1927.00" stroke="#000" stroke-width="2.6"/>
<line x1="658.50" y1="1945.00" x2="683.50" y2="1945.00" stroke="#000" stroke-width="2.6"/>
<line x1="671.00" y1="1927.00" x2="671.00" y2="1945.00" stroke="#000" stroke-width="2.6"/>
<line x1="645.00" y1="1936.40" x2="697.00" y2="1936.40" stroke="#000" stroke-width="5.4"/>
<circle cx="671.00" cy="1920.50" r="5.45" fill="#00c000"/>
<circle cx="671.00" cy="1935.80" r="5.45" fill="#00c000"/>
<circle cx="671.00" cy="1951.90" r="5.45" fill="#00c000"/>
<line x1="736.50" y1="1830.40" x2="761.50" y2="1830.40" stroke="#000" stroke-width="2.6"/>
<line x1="736.50" y1="1877.20" x2="761.50" y2="1877.20" stroke="#000" stroke-width="2.6"/>
<line x1="749.00" y1="1830.40" x2="749.00" y2="1877.20" stroke="#000" stroke-width="2.6"/>
<line x1="723.00" y1="1854.40" x2="775.00" y2="1854.40" stroke="#000" stroke-width="5.4"/>
<circle cx="749.00" cy="1820.40" r="5.45" fill="#a806e2"/>
<circle cx="749.00" cy="1843.60" r="5.45" fill="#a806e2"/>
<circle cx="749.00" cy="1897.70" r="5.45" fill="#a806e2"/>
<line x1="593.20" y1="1757.50" x2="671.00" y2="1757.50" stroke="#000" stroke-width="5.6"/>
<text transform="translate(573.54 1734.00) scale(1 1.025)" font-size="36" letter-spacing="1.406" stroke="#000" stroke-width="0.30">0.0848</text>
<text transform="translate(929.42 1467.70) scale(1 1.0)" font-size="36" font-weight="bold" letter-spacing="1.101" stroke="#000" stroke-width="0.55">2-Hydroxyglutaric acid</text>
<line x1="1004.30" y1="1768.01" x2="1004.30" y2="2029.95" stroke="#000" stroke-width="5.6"/>
<line x1="981.70" y1="2029.95" x2="1265.70" y2="2029.95" stroke="#000" stroke-width="5.6"/>
<line x1="981.70" y1="2029.95" x2="1004.30" y2="2029.95" stroke="#000" stroke-width="5.6"/>
<text transform="translate(955.98 2043.15) scale(1 1.05)" font-size="36" font-weight="bold" stroke="#000" stroke-width="0.55">0</text>
<line x1="981.70" y1="1943.57" x2="1004.30" y2="1943.57" stroke="#000" stroke-width="5.6"/>
<text transform="translate(935.96 1956.77) scale(1 1.05)" font-size="36" font-weight="bold" stroke="#000" stroke-width="0.55">50</text>
<line x1="981.70" y1="1857.19" x2="1004.30" y2="1857.19" stroke="#000" stroke-width="5.6"/>
<text transform="translate(915.94 1870.39) scale(1 1.05)" font-size="36" font-weight="bold" stroke="#000" stroke-width="0.55">100</text>
<line x1="981.70" y1="1770.81" x2="1004.30" y2="1770.81" stroke="#000" stroke-width="5.6"/>
<text transform="translate(915.94 1784.01) scale(1 1.05)" font-size="36" font-weight="bold" stroke="#000" stroke-width="0.55">150</text>
<line x1="1043.50" y1="2029.95" x2="1043.50" y2="2052.45" stroke="#000" stroke-width="5.6"/>
<line x1="1103.50" y1="2029.95" x2="1103.50" y2="2052.45" stroke="#000" stroke-width="5.6"/>
<line x1="1163.30" y1="2029.95" x2="1163.30" y2="2052.45" stroke="#000" stroke-width="5.6"/>
<line x1="1222.80" y1="2029.95" x2="1222.80" y2="2052.45" stroke="#000" stroke-width="5.6"/>
<text transform="translate(1053.90 2085.55) rotate(-45) scale(1 1.025)" x="-63.24" font-size="36" font-weight="bold" letter-spacing="0.300" stroke="#000" stroke-width="0.55">DIO</text>
<text transform="translate(1113.90 2085.55) rotate(-45) scale(1 1.025)" x="-193.66" font-size="36" font-weight="bold" letter-spacing="0.300" stroke="#000" stroke-width="0.55">STAM-NON</text>
<text transform="translate(1173.70 2085.55) rotate(-45) scale(1 1.025)" x="-174.76" font-size="36" font-weight="bold" letter-spacing="0.300" stroke="#000" stroke-width="0.55">STAM-INS</text>
<text transform="translate(1233.20 2085.55) rotate(-45) scale(1 1.025)" x="-187.15" font-size="36" font-weight="bold" letter-spacing="0.300" stroke="#000" stroke-width="0.55">STAM-PHZ</text>
<line x1="1033.80" y1="1963.50" x2="1053.40" y2="1963.50" stroke="#000" stroke-width="2.6"/>
<line x1="1033.80" y1="1979.60" x2="1053.40" y2="1979.60" stroke="#000" stroke-width="2.6"/>
<line x1="1043.60" y1="1963.50" x2="1043.60" y2="1979.60" stroke="#000" stroke-width="2.6"/>
<line x1="1023.70" y1="1971.50" x2="1063.50" y2="1971.50" stroke="#000" stroke-width="5.4"/>
<circle cx="1043.80" cy="1955.60" r="5.45" fill="#0000ff"/>
<circle cx="1029.20" cy="1981.90" r="5.45" fill="#0000ff"/>
<circle cx="1058.30" cy="1976.70" r="5.45" fill="#0000ff"/>
<line x1="1094.10" y1="1899.20" x2="1112.90" y2="1899.20" stroke="#000" stroke-width="2.6"/>
<line x1="1094.10" y1="1906.40" x2="1112.90" y2="1906.40" stroke="#000" stroke-width="2.6"/>
<line x1="1103.50" y1="1899.20" x2="1103.50" y2="1906.40" stroke="#000" stroke-width="2.6"/>
<line x1="1083.50" y1="1902.80" x2="1123.50" y2="1902.80" stroke="#000" stroke-width="5.4"/>
<circle cx="1088.90" cy="1896.80" r="5.45" fill="#ff0000"/>
<circle cx="1088.90" cy="1909.40" r="5.45" fill="#ff0000"/>
<circle cx="1117.90" cy="1901.80" r="5.45" fill="#ff0000"/>
<line x1="1153.40" y1="1961.50" x2="1172.80" y2="1961.50" stroke="#000" stroke-width="2.6"/>
<line x1="1153.40" y1="1969.30" x2="1172.80" y2="1969.30" stroke="#000" stroke-width="2.6"/>
<line x1="1163.10" y1="1961.50" x2="1163.10" y2="1969.30" stroke="#000" stroke-width="2.6"/>
<line x1="1143.10" y1="1965.30" x2="1183.10" y2="1965.30" stroke="#000" stroke-width="5.4"/>
<circle cx="1148.90" cy="1960.70" r="5.45" fill="#00c000"/>
<circle cx="1177.90" cy="1962.50" r="5.45" fill="#00c000"/>
<circle cx="1163.30" cy="1973.30" r="5.45" fill="#00c000"/>
<line x1="1212.80" y1="1847.40" x2="1232.60" y2="1847.40" stroke="#000" stroke-width="2.6"/>
<line x1="1212.80" y1="1854.50" x2="1232.60" y2="1854.50" stroke="#000" stroke-width="2.6"/>
<line x1="1222.70" y1="1847.40" x2="1222.70" y2="1854.50" stroke="#000" stroke-width="2.6"/>
<line x1="1203.10" y1="1850.90" x2="1242.30" y2="1850.90" stroke="#000" stroke-width="5.4"/>
<circle cx="1208.60" cy="1844.60" r="5.45" fill="#a806e2"/>
<circle cx="1208.60" cy="1857.40" r="5.45" fill="#a806e2"/>
<circle cx="1237.60" cy="1850.20" r="5.45" fill="#a806e2"/>
<line x1="1043.70" y1="1782.70" x2="1103.60" y2="1782.70" stroke="#000" stroke-width="5.6"/>
<text transform="translate(1023.33 1772.53) scale(1 1)" font-size="42" font-weight="bold" font-family="DejaVu Sans, sans-serif" letter-spacing="4.200" stroke="#000" stroke-width="0.4">****</text>
<line x1="1103.50" y1="1678.50" x2="1163.50" y2="1678.50" stroke="#000" stroke-width="5.6"/>
<text transform="translate(1082.93 1669.53) scale(1 1)" font-size="42" font-weight="bold" font-family="DejaVu Sans, sans-serif" letter-spacing="4.200" stroke="#000" stroke-width="0.4">****</text>
<line x1="1103.50" y1="1574.70" x2="1223.20" y2="1574.70" stroke="#000" stroke-width="5.6"/>
<text transform="translate(1125.81 1564.12) scale(1 1)" font-size="42" font-weight="bold" font-family="DejaVu Sans, sans-serif" letter-spacing="4.200" stroke="#000" stroke-width="0.4">***</text>
<text transform="translate(1502.96 1474.40) scale(1 1.0)" font-size="36" font-weight="bold" letter-spacing="0.983" stroke="#000" stroke-width="0.55">Malonyl CoA</text>
<line x1="1487.80" y1="1773.81" x2="1487.80" y2="2036.05" stroke="#000" stroke-width="5.6"/>
<line x1="1465.20" y1="2036.05" x2="1750.00" y2="2036.05" stroke="#000" stroke-width="5.6"/>
<line x1="1465.20" y1="2036.05" x2="1487.80" y2="2036.05" stroke="#000" stroke-width="5.6"/>
<text transform="translate(1410.06 2049.65) scale(1 1.05)" font-size="36" font-weight="bold" stroke="#000" stroke-width="0.55">0.0</text>
<line x1="1465.20" y1="1971.19" x2="1487.80" y2="1971.19" stroke="#000" stroke-width="5.6"/>
<text transform="translate(1410.06 1984.79) scale(1 1.05)" font-size="36" font-weight="bold" stroke="#000" stroke-width="0.55">0.2</text>
<line x1="1465.20" y1="1906.33" x2="1487.80" y2="1906.33" stroke="#000" stroke-width="5.6"/>
<text transform="translate(1408.80 1919.93) scale(1 1.05)" font-size="36" font-weight="bold" stroke="#000" stroke-width="0.55">0.4</text>
<line x1="1465.20" y1="1841.47" x2="1487.80" y2="1841.47" stroke="#000" stroke-width="5.6"/>
<text transform="translate(1410.06 1855.07) scale(1 1.05)" font-size="36" font-weight="bold" stroke="#000" stroke-width="0.55">0.6</text>
<line x1="1465.20" y1="1776.61" x2="1487.80" y2="1776.61" stroke="#000" stroke-width="5.6"/>
<text transform="translate(1409.70 1790.21) scale(1 1.05)" font-size="36" font-weight="bold" stroke="#000" stroke-width="0.55">0.8</text>
<line x1="1527.40" y1="2036.05" x2="1527.40" y2="2058.55" stroke="#000" stroke-width="5.6"/>
<line x1="1587.20" y1="2036.05" x2="1587.20" y2="2058.55" stroke="#000" stroke-width="5.6"/>
<line x1="1646.90" y1="2036.05" x2="1646.90" y2="2058.55" stroke="#000" stroke-width="5.6"/>
<line x1="1706.80" y1="2036.05" x2="1706.80" y2="2058.55" stroke="#000" stroke-width="5.6"/>
<text transform="translate(1537.80 2091.65) rotate(-45) scale(1 1.025)" x="-63.24" font-size="36" font-weight="bold" letter-spacing="0.300" stroke="#000" stroke-width="0.55">DIO</text>
<text transform="translate(1597.60 2091.65) rotate(-45) scale(1 1.025)" x="-193.66" font-size="36" font-weight="bold" letter-spacing="0.300" stroke="#000" stroke-width="0.55">STAM-NON</text>
<text transform="translate(1657.30 2091.65) rotate(-45) scale(1 1.025)" x="-174.76" font-size="36" font-weight="bold" letter-spacing="0.300" stroke="#000" stroke-width="0.55">STAM-INS</text>
<text transform="translate(1717.20 2091.65) rotate(-45) scale(1 1.025)" x="-187.15" font-size="36" font-weight="bold" letter-spacing="0.300" stroke="#000" stroke-width="0.55">STAM-PHZ</text>
<line x1="1517.70" y1="1884.50" x2="1536.90" y2="1884.50" stroke="#000" stroke-width="2.6"/>
<line x1="1517.70" y1="1906.50" x2="1536.90" y2="1906.50" stroke="#000" stroke-width="2.6"/>
<line x1="1527.30" y1="1884.50" x2="1527.30" y2="1906.50" stroke="#000" stroke-width="2.6"/>
<line x1="1507.60" y1="1895.70" x2="1547.00" y2="1895.70" stroke="#000" stroke-width="5.4"/>
<circle cx="1527.50" cy="1874.30" r="5.45" fill="#0000ff"/>
<circle cx="1512.60" cy="1906.50" r="5.45" fill="#0000ff"/>
<circle cx="1541.90" cy="1906.50" r="5.45" fill="#0000ff"/>
<line x1="1577.70" y1="1809.00" x2="1596.90" y2="1809.00" stroke="#000" stroke-width="2.6"/>
<line x1="1577.70" y1="1830.40" x2="1596.90" y2="1830.40" stroke="#000" stroke-width="2.6"/>
<line x1="1587.30" y1="1809.00" x2="1587.30" y2="1830.40" stroke="#000" stroke-width="2.6"/>
<line x1="1567.60" y1="1820.10" x2="1607.00" y2="1820.10" stroke="#000" stroke-width="5.4"/>
<circle cx="1572.60" cy="1809.00" r="5.45" fill="#ff0000"/>
<circle cx="1601.30" cy="1809.00" r="5.45" fill="#ff0000"/>
<circle cx="1586.70" cy="1841.50" r="5.45" fill="#ff0000"/>
<line x1="1627.00" y1="1938.70" x2="1666.50" y2="1938.70" stroke="#000" stroke-width="5.4"/>
<circle cx="1632.00" cy="1938.70" r="5.45" fill="#00c000"/>
<circle cx="1646.70" cy="1938.70" r="5.45" fill="#00c000"/>
<circle cx="1661.30" cy="1938.70" r="5.45" fill="#00c000"/>
<line x1="1697.20" y1="1822.20" x2="1716.40" y2="1822.20" stroke="#000" stroke-width="2.6"/>
<line x1="1697.20" y1="1860.50" x2="1716.40" y2="1860.50" stroke="#000" stroke-width="2.6"/>
<line x1="1706.80" y1="1822.20" x2="1706.80" y2="1860.50" stroke="#000" stroke-width="2.6"/>
<line x1="1687.10" y1="1841.50" x2="1726.50" y2="1841.50" stroke="#000" stroke-width="5.4"/>
<circle cx="1706.70" cy="1809.30" r="5.45" fill="#a806e2"/>
<circle cx="1706.70" cy="1841.50" r="5.45" fill="#a806e2"/>
<circle cx="1706.70" cy="1874.30" r="5.45" fill="#a806e2"/>
<line x1="1527.50" y1="1746.70" x2="1576.70" y2="1746.70" stroke="#000" stroke-width="5.6"/>
<text transform="translate(1527.89 1737.53) scale(1 1)" font-size="42" font-weight="bold" font-family="DejaVu Sans, sans-serif" letter-spacing="4.200" stroke="#000" stroke-width="0.4">**</text>
<line x1="1597.80" y1="1746.70" x2="1707.00" y2="1746.70" stroke="#000" stroke-width="5.6"/>
<text transform="translate(1631.86 1723.70) scale(1 1.0)" font-size="36" letter-spacing="2.579" stroke="#000" stroke-width="0.30">ns</text>
<line x1="1586.70" y1="1642.20" x2="1647.20" y2="1642.20" stroke="#000" stroke-width="5.6"/>
<text transform="translate(1580.21 1632.53) scale(1 1)" font-size="42" font-weight="bold" font-family="DejaVu Sans, sans-serif" letter-spacing="4.200" stroke="#000" stroke-width="0.4">***</text>
</svg>
</body>
</html>
